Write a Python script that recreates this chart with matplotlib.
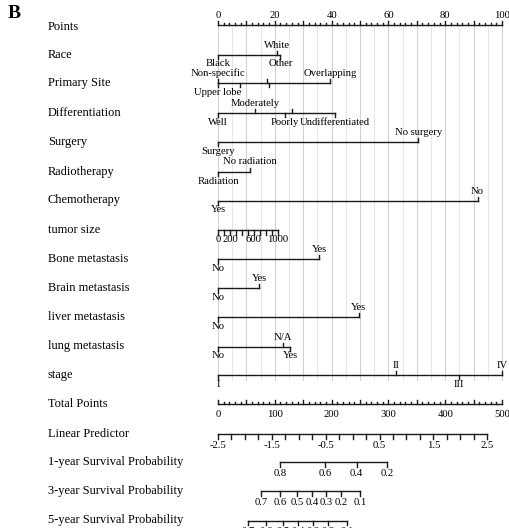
import matplotlib
matplotlib.use('Agg')
import matplotlib.pyplot as plt
import numpy as np

plt.rcParams['font.family'] = ['Liberation Serif', 'DejaVu Serif']

# ---------------- data ----------------
row_names = ["Points", "Race", "Primary Site", "Differentiation", "Surgery",
             "Radiotherapy", "Chemotherapy", "tumor size", "Bone metastasis",
             "Brain metastasis", "liver metastasis", "lung metastasis", "stage",
             "Total Points", "Linear Predictor", "1-year Survival Probability",
             "3-year Survival Probability", "5-year Survival Probability"]

race_labels = ["Black", "White", "Other"]
race_points = [0, 20.7, 22.0]
primary_labels = ["Upper lobe", "Non-specific", "", "", "", "Overlapping"]
primary_points = [0, 0, 7.7, 17.1, 18.0, 39.4]
diff_labels = ["Well", "Moderately", "Poorly", "", "Undifferentiated"]
diff_points = [0, 13.2, 23.6, 25.9, 41.2]
surgery_labels = ["Surgery", "No surgery"]
surgery_points = [0, 70.5]
radio_labels = ["Radiation", "No radiation"]
radio_points = [0, 11.3]
chemo_labels = ["Yes", "No"]
chemo_points = [0, 91.4]
tumor_ticks = [0, 100, 200, 300, 400, 500, 600, 700, 800, 900, 1000]
tumor_labels = ["0", "200", "600", "1000"]
tumor_points_at_max = 21.0
bone_labels = ["No", "Yes"]
bone_points = [0, 35.7]
brain_labels = ["No", "Yes"]
brain_points = [0, 14.5]
liver_labels = ["No", "Yes"]
liver_points = [0, 49.6]
lung_labels = ["No", "N/A", "Yes"]
lung_points = [0, 22.8, 25.5]
stage_labels = ["I", "II", "III", "IV"]
stage_points = [0, 62.7, 84.7, 100]
total_labels = [0, 100, 200, 300, 400, 500]
lp_labels = [-2.5, -1.5, -0.5, 0.5, 1.5, 2.5]
lp_total_range = [0, 474]          # total points at LP -2.5 and 2.5
surv1_labels = ["0.8", "0.6", "0.4", "0.2"]
surv1_total = [110, 189, 244, 298]
surv3_labels = ["0.7", "0.6", "0.5", "0.4", "0.3", "0.2", "0.1"]
surv3_total = [76, 109, 139, 166, 191, 217, 250]
surv5_labels = ["0.7", "0.6", "0.5", "0.4", "0.3", "0.2", "0.1"]
surv5_total = [53, 85, 114, 141, 168, 194, 227]

# ---------------- layout ----------------
X0, PXPT = 218.0, 2.84         # pixel of 0 points, pixels per point
W, H = 510, 528
row_y = [25, 54.5, 83, 113, 142, 171.5, 200.5, 230, 259, 288, 317.3, 346.5,
         375, 404.3, 434, 462.3, 491.3, 520.5]
label_y = list(row_y)
label_y[0] = 27
LC = '#1a1a1a'
LW = 1.0
FS_ROW = 8.9
FS_TICK = 7.7
OFF = 9.5

fig = plt.figure(figsize=(W / 100, H / 100), dpi=100)
ax = fig.add_axes([0, 0, 1, 1])
ax.set_xlim(-X0 / PXPT, (W - X0) / PXPT)
ax.set_ylim(H, 0)
ax.axis('off')

def tp(total):
    return np.asarray(total, dtype=float) / 5.0

# grid
for g in np.arange(0, 101, 5):
    col = '#d2d2d2' if g % 10 == 0 else '#e6e6e6'
    ax.plot([g, g], [row_y[0], 380], color=col, lw=0.8, zorder=0)

# row labels
for name, y in zip(row_names, label_y):
    ax.text((48 - X0) / PXPT, y, name, fontsize=FS_ROW, ha='left', va='center')

ax.text((8 - X0) / PXPT, 14, "B", fontsize=14, fontweight='bold', ha='left', va='center')

# Points axis
y = row_y[0]
ax.plot([0, 100], [y, y], color=LC, lw=LW)
for v in np.arange(0, 101, 2):
    L = 4.5 if v % 10 == 0 else 2.5
    ax.plot([v, v], [y, y - L], color=LC, lw=LW)
for v in range(0, 101, 20):
    ax.text(v, y - 10, str(v), fontsize=FS_TICK, ha='center', va='center')

# categorical rows
sides = {
    1: [-1, 1, -1], 2: [-1, 1, -1, 1, -1, 1], 3: [-1, 1, -1, 1, -1],
    4: [-1, 1], 5: [-1, 1], 6: [-1, 1], 8: [-1, 1], 9: [-1, 1], 10: [-1, 1],
    11: [-1, 1, -1], 12: [-1, 1, -1, 1],
}
cats = {1: (race_labels, race_points), 2: (primary_labels, primary_points),
        3: (diff_labels, diff_points), 4: (surgery_labels, surgery_points),
        5: (radio_labels, radio_points), 6: (chemo_labels, chemo_points),
        8: (bone_labels, bone_points), 9: (brain_labels, brain_points),
        10: (liver_labels, liver_points), 11: (lung_labels, lung_points),
        12: (stage_labels, stage_points)}
for r, (labs, pts) in cats.items():
    y = row_y[r]
    ax.plot([min(pts), max(pts)], [y, y], color=LC, lw=LW)
    for lab, p, s in zip(labs, pts, sides[r]):
        ax.plot([p, p], [y, y - s * 4], color=LC, lw=LW)
        if lab:
            ax.text(p, y - s * OFF, lab, fontsize=FS_TICK, ha='center', va='center')

# tumor size
y = row_y[7]
tpos = [t / tumor_ticks[-1] * tumor_points_at_max for t in tumor_ticks]
ax.plot([tpos[0], tpos[-1]], [y, y], color=LC, lw=LW)
for p in tpos:
    ax.plot([p, p], [y, y + 4.5], color=LC, lw=LW)
for lab in tumor_labels:
    p = float(lab) / tumor_ticks[-1] * tumor_points_at_max
    ax.text(p, y + 9.5, lab, fontsize=FS_TICK, ha='center', va='center')

# Total points
y = row_y[13]
ax.plot([0, 100], [y, y], color=LC, lw=LW)
for v in np.arange(0, 501, 10):
    L = 4.5 if v % 50 == 0 else 2.5
    ax.plot([tp(v), tp(v)], [y, y - L], color=LC, lw=LW)
for v in total_labels:
    ax.text(tp(v), y + 10.5, str(v), fontsize=FS_TICK, ha='center', va='center')

# Linear predictor
y = row_y[14]
def lp2p(lp):
    return tp(lp_total_range[0] + (lp - lp_labels[0]) / (lp_labels[-1] - lp_labels[0])
              * (lp_total_range[1] - lp_total_range[0]))
ax.plot([lp2p(lp_labels[0]), lp2p(lp_labels[-1])], [y, y], color=LC, lw=LW)
for v in np.arange(lp_labels[0], lp_labels[-1] + 0.01, 0.25):
    ax.plot([lp2p(v), lp2p(v)], [y, y + 4.5], color=LC, lw=LW)
for v in lp_labels:
    ax.text(lp2p(v), y + 11, f"{v:g}", fontsize=FS_TICK, ha='center', va='center')

# survival axes
for r, labs, tots in [(15, surv1_labels, surv1_total),
                      (16, surv3_labels, surv3_total),
                      (17, surv5_labels, surv5_total)]:
    y = row_y[r]
    ps = tp(tots)
    ax.plot([ps.min(), ps.max()], [y, y], color=LC, lw=LW)
    for lab, p in zip(labs, ps):
        ax.plot([p, p], [y, y + 4.5], color=LC, lw=LW)
        ax.text(p, y + 11, lab, fontsize=FS_TICK, ha='center', va='center')

fig.savefig('out.png', dpi=100)
